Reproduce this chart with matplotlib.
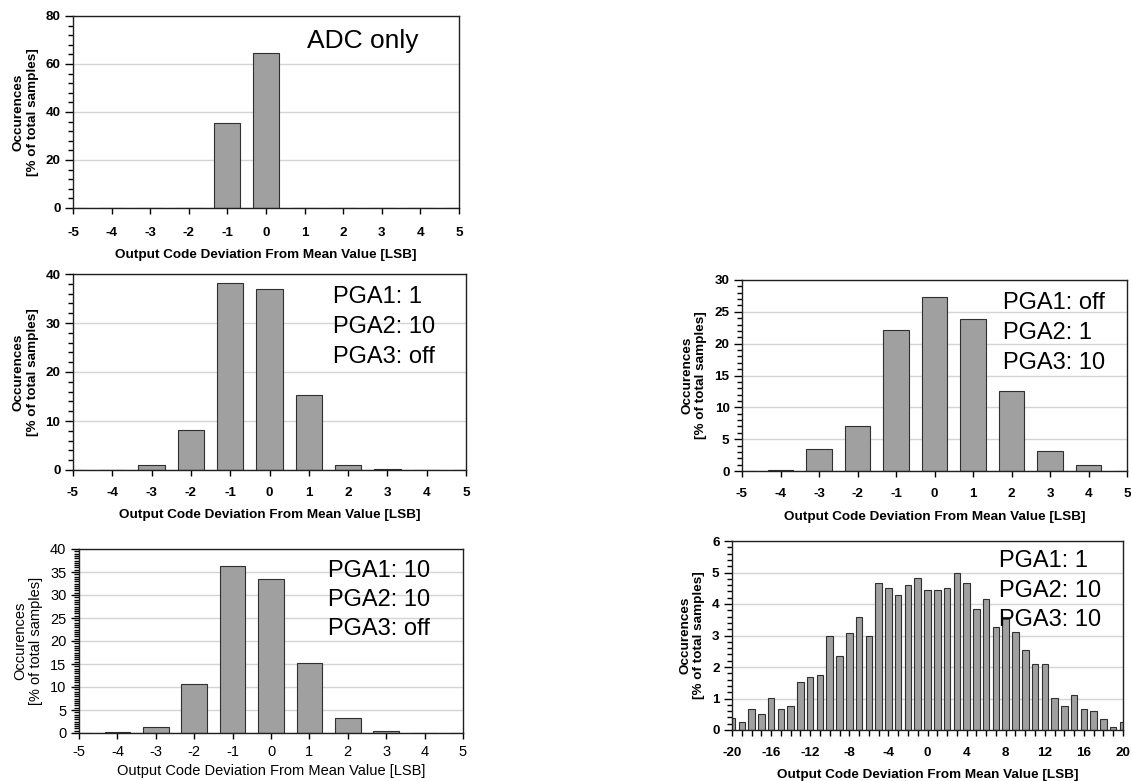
import numpy as np
import matplotlib.pyplot as plt
from matplotlib.ticker import MultipleLocator

plt.rcParams['font.family'] = ['Liberation Sans', 'DejaVu Sans']
plt.rcParams['axes.unicode_minus'] = False

# deviation codes
codes_small = list(range(-5, 6))
codes_wide = list(range(-20, 21))

# occurrences [% of total samples]
adc_only = [0, 0, 0, 0, 35.6, 64.5, 0, 0, 0, 0, 0]
pga_1_10_off = [0, 0, 1.0, 8.1, 38.1, 36.9, 15.4, 1.0, 0.2, 0, 0]
pga_10_10_off = [0, 0.2, 1.3, 10.6, 36.4, 33.5, 15.3, 3.2, 0.4, 0, 0]
pga_off_1_10 = [0, 0.1, 3.4, 7.0, 22.1, 27.3, 23.8, 12.6, 3.1, 0.9, 0]
pga_1_10_10 = [0.37, 0.26, 0.68, 0.52, 1.03, 0.68, 0.77, 1.52, 1.69, 1.76,
               3.0, 2.36, 3.09, 3.6, 3.0, 4.66, 4.5, 4.27, 4.6, 4.83,
               4.43, 4.43, 4.5, 4.99, 4.66, 3.83, 4.17, 3.26, 3.6, 3.1,
               2.54, 2.1, 2.1, 1.02, 0.77, 1.1, 0.68, 0.6, 0.36, 0.1, 0.26]

labels_adc = ["ADC only"]
labels_a = ["PGA1: 1", "PGA2: 10", "PGA3: off"]
labels_b = ["PGA1: 10", "PGA2: 10", "PGA3: off"]
labels_c = ["PGA1: off", "PGA2: 1", "PGA3: 10"]
labels_d = ["PGA1: 1", "PGA2: 10", "PGA3: 10"]

W, H = 1131, 781
fig = plt.figure(figsize=(W / 100, H / 100), dpi=100)


def add_axes(left, top, right, bottom):
    # pixel box -> figure fraction
    return fig.add_axes([left / W, 1 - bottom / H, (right - left) / W, (bottom - top) / H])


def panel(ax, x, y, xlim, ylim, ymaj, ymin, xmaj, xmin, notes, note_x, note_y,
          note_size, bold=True, fs=9.7, xpad=8.5, lpad=7):
    weight = 'bold' if bold else 'normal'
    ax.set_axisbelow(True)
    ax.yaxis.grid(True, color='#d4d4d4', linewidth=1.0)
    ax.bar(x, y, width=0.67, color='#a0a0a0', edgecolor='#303030', linewidth=0.8)
    ax.set_xlim(*xlim)
    ax.set_ylim(*ylim)
    ax.yaxis.set_major_locator(MultipleLocator(ymaj))
    ax.yaxis.set_minor_locator(MultipleLocator(ymin))
    ax.xaxis.set_major_locator(MultipleLocator(xmaj))
    if xmin:
        ax.xaxis.set_minor_locator(MultipleLocator(xmin))
    ax.tick_params(axis='y', which='major', length=6, width=1, pad=3, labelsize=fs)
    ax.tick_params(axis='y', which='minor', length=3.5, width=1)
    ax.tick_params(axis='x', which='both', length=4, width=1, pad=xpad, labelsize=fs)
    for lab in ax.get_xticklabels() + ax.get_yticklabels():
        lab.set_fontweight(weight)
    for s in ax.spines.values():
        s.set_linewidth(1.0)
        s.set_color('#202020')
    ax.set_xlabel("Output Code Deviation From Mean Value [LSB]", fontsize=fs,
                  fontweight=weight, labelpad=lpad)
    ax.set_ylabel("Occurences\n[% of total samples]", fontsize=fs,
                  fontweight=weight, labelpad=5)
    for i, t in enumerate(notes):
        ax.text(note_x, note_y[i], t, transform=ax.transAxes, fontsize=note_size,
                va='baseline', ha='left')


ax1 = add_axes(73, 16, 459, 208)
panel(ax1, codes_small, adc_only, (-5, 5), (0, 80), 20, 4, 1, None,
      labels_adc, 0.606, [0.833], 19, xpad=10)

ax2 = add_axes(73, 274, 466, 470)
panel(ax2, codes_small, pga_1_10_off, (-5, 5), (0, 40), 10, 2, 1, None,
      labels_a, 0.662, [0.852, 0.699, 0.546], 17)

ax3 = add_axes(79, 549, 463, 733)
panel(ax3, codes_small, pga_10_10_off, (-5, 5), (0, 40), 5, 0.5, 1, None,
      labels_b, 0.648, [0.848, 0.690, 0.533], 17, bold=False, fs=10.5,
      xpad=5, lpad=3)

ax4 = add_axes(742, 280, 1127, 471)
panel(ax4, codes_small, pga_off_1_10, (-5, 5), (0, 30), 5, 1, 1, None,
      labels_c, 0.678, [0.848, 0.691, 0.534], 17, lpad=8)

ax5 = add_axes(732, 541, 1123, 730)
panel(ax5, codes_wide, pga_1_10_10, (-20, 20), (0, 6), 1, 0.2, 4, 1,
      labels_d, 0.683, [0.862, 0.704, 0.550], 17)

fig.savefig("out.png", dpi=100)
